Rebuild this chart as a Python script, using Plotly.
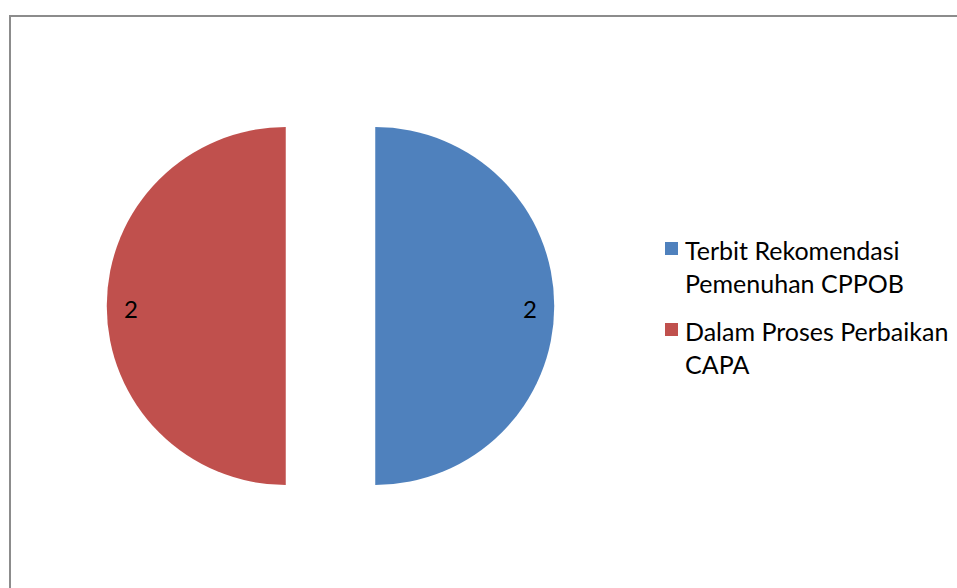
import math
import plotly.graph_objects as go

# Status counts for the CPPOB inspection follow-up
labels = ["Terbit Rekomendasi<br>Pemenuhan CPPOB", "Dalam Proses Perbaikan<br>CAPA"]
counts = [2, 2]
colors = ["#4F81BD", "#C0504D"]
pull = 0.25

W, H = 957, 588
FONT = "Lato, Carlito, Calibri, sans-serif"

# Pie domain in pixels (left, right, top, bottom)
dom_l, dom_r, dom_t, dom_b = 106.75, 554.25, 82.25, 529.75

fig = go.Figure(go.Pie(
    labels=labels,
    values=counts,
    sort=False,
    direction="clockwise",
    rotation=0,
    pull=[pull] * len(counts),
    marker=dict(colors=colors, line=dict(width=0)),
    textinfo="none",
    hoverinfo="label+value",
    domain=dict(x=[dom_l / W, dom_r / W], y=[1 - dom_b / H, 1 - dom_t / H]),
))

# Value labels placed near the outer rim of each exploded slice
cx, cy = (dom_l + dom_r) / 2, (dom_t + dom_b) / 2
r = min(dom_r - dom_l, dom_b - dom_t) / (2 + 2 * pull)
total = sum(counts)
start = 0.0
for v in counts:
    mid = (start + v / 2) / total * 2 * math.pi  # clockwise from 12 o'clock
    dx, dy = math.sin(mid), -math.cos(mid)
    px = cx + dx * r * pull + dx * r * 0.865
    py = cy + dy * r * pull + dy * r * 0.865 + 2
    fig.add_annotation(x=px / W, y=1 - py / H, xref="paper", yref="paper",
                       xanchor="center", yanchor="middle",
                       text=str(v), showarrow=False,
                       font=dict(family=FONT, size=24, color="#000000"))
    start += v

# Legend drawn by hand: colour square + two-line label per slice
leg_x, leg_top, row_step, sq = 665, 242, 81, 13
for i, (lab, col) in enumerate(zip(labels, colors)):
    top = leg_top + i * row_step
    fig.add_shape(type="rect", xref="paper", yref="paper",
                  x0=leg_x / W, x1=(leg_x + sq) / W,
                  y0=1 - (top + sq) / H, y1=1 - top / H,
                  line=dict(width=0), fillcolor=col)
    fig.add_annotation(x=(leg_x + 18) / W, y=1 - (top - 9) / H,
                       xref="paper", yref="paper",
                       xanchor="left", yanchor="top", align="left",
                       text=lab, showarrow=False,
                       font=dict(family=FONT, size=25, color="#000000"))

# Chart-area frame (runs off the right and bottom edges)
fig.add_shape(type="rect", xref="paper", yref="paper",
              x0=10 / W, x1=1.02, y0=-0.02, y1=1 - 16 / H,
              line=dict(color="#8C8C8C", width=2), fillcolor="rgba(0,0,0,0)")

fig.update_layout(
    width=W, height=H,
    margin=dict(l=0, r=0, t=0, b=0),
    paper_bgcolor="white",
    plot_bgcolor="white",
    showlegend=False,
)

fig.write_html("out.html")
